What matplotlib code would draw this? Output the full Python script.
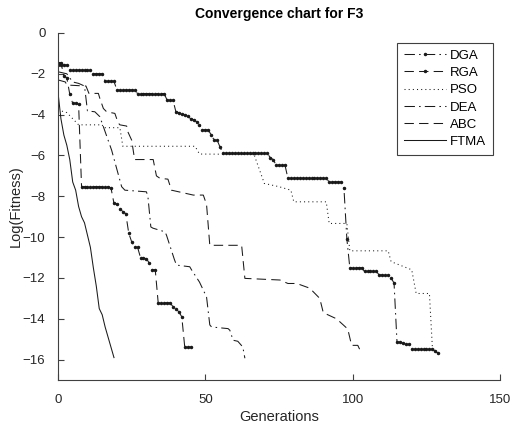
import numpy as np
import matplotlib
matplotlib.use("Agg")
import matplotlib.pyplot as plt

plt.rcParams["font.family"] = ["Liberation Sans", "DejaVu Sans"]

# ---------------------------------------------------------------------------
# Data (log fitness per generation)
# ---------------------------------------------------------------------------

# DGA / RGA: step values with how many generations each value holds
DGA_vals = [-1.57, -1.83, -2.0, -2.37, -2.8, -2.97, -3.28,
            -3.86, -3.9, -3.95, -4.0, -4.08, -4.2, -4.25, -4.35, -4.5,
            -4.75, -5.0, -5.25, -5.6, -5.9, -6.1, -6.2, -6.47, -7.12, -7.3,
            -7.6, -10.1, -11.5, -11.68, -11.86, -12.0, -12.25,
            -15.13, -15.15, -15.2, -15.22, -15.24, -15.5, -15.6, -15.67]
DGA_runs = [4, 8, 4, 4, 7, 10, 3,
            1, 1, 1, 1, 1, 1, 1, 1, 1,
            3, 1, 2, 1, 16, 1, 1, 4, 14, 5,
            1, 1, 5, 5, 4, 1, 1,
            1, 1, 1, 1, 1, 8, 1, 1]

RGA_vals = [-1.45, -2.1, -2.2, -3.0, -3.45, -3.5, -7.53, -7.6, -8.35, -8.38,
            -8.6, -8.75, -8.85, -9.8, -10.23, -10.47, -10.5, -11.0, -11.03,
            -11.05, -11.28, -11.6, -13.22, -13.4, -13.5, -13.66, -13.9, -15.38]
RGA_runs = [2, 1, 1, 1, 2, 1, 10, 1, 1, 1,
            1, 1, 1, 1, 1, 1, 1, 1, 1,
            1, 1, 2, 5, 1, 1, 1, 1, 3]

# PSO / DEA / ABC: corner points of the curves
PSO_x = [0, 3, 7, 15, 15.5, 21, 22, 46.5, 48, 66.5, 70, 75, 79, 80, 91, 92,
         98, 99, 112, 113, 120, 121.5, 126, 127, 128.5]
PSO_y = [-3.77, -3.9, -4.5, -4.5, -4.64, -4.64, -5.55, -5.55, -5.93, -5.95,
         -7.37, -7.53, -7.7, -8.27, -8.27, -9.33, -9.33, -10.67, -10.67,
         -11.2, -11.6, -12.76, -12.76, -15.4, -15.67]

DEA_x = [0, 3, 5, 7, 9, 9.5, 10, 12.5, 14.2, 18.2, 21.6, 22.7, 30, 30.5, 31.5,
         32.2, 36.3, 36.8, 39.5, 40.2, 44.7, 45.3, 48, 50.4, 51.5, 52.1, 57.7,
         58.3, 59.4, 61, 62.7, 63.4]
DEA_y = [-1.9, -2.0, -2.4, -2.47, -2.6, -3.2, -3.82, -3.86, -4.1, -5.74,
         -7.53, -7.7, -7.78, -8.0, -9.5, -9.56, -9.74, -9.9, -11.1, -11.37,
         -11.45, -11.6, -12.2, -12.93, -14.3, -14.4, -14.48, -14.56, -15.05,
         -15.1, -15.38, -15.93]

ABC_x = [0, 2.5, 3, 9.5, 10.5, 13.7, 14.2, 15.4, 16.5, 19.3, 20.4, 21, 23.3,
         23.7, 25, 26, 32.3, 33.4, 34.6, 37.3, 38.5, 45.9, 49.3, 50.4, 51.5,
         62.3, 63.4, 75.3, 78, 81, 85.4, 88.8, 90, 94.5, 98.3, 99.6, 101.7, 103]
ABC_y = [-2.3, -2.4, -2.55, -2.6, -2.96, -2.96, -3.2, -3.7, -3.86, -3.94,
         -4.4, -4.5, -4.56, -4.84, -5.25, -6.2, -6.2, -7.0, -7.12, -7.16,
         -7.7, -7.94, -7.94, -8.4, -10.4, -10.4, -12.02, -12.1, -12.27,
         -12.27, -12.5, -13.0, -13.7, -14.0, -14.5, -15.3, -15.3, -15.7]

FTMA_y = [-2.9, -4.2, -5.0, -5.5, -6.2, -7.3, -7.7, -8.5, -9.0, -9.3, -9.9,
          -10.5, -11.5, -12.4, -13.5, -13.8, -14.4, -14.9, -15.4, -15.9]

# ---------------------------------------------------------------------------
# Plot
# ---------------------------------------------------------------------------

dga = np.repeat(DGA_vals, DGA_runs)
rga = np.repeat(RGA_vals, RGA_runs)

fig = plt.figure(figsize=(5.13, 4.28), dpi=100)
ax = fig.add_axes([0.113, 0.112, 0.862, 0.811])

lw = 0.75
DASH = (9, 5)              # MATLAB-like long dashes
DASHDOT = (10, 4, 1.5, 4)
DOT = (1, 3)
lc = "#1a1a1a"

ax.plot(np.arange(len(dga)), dga, color=lc, lw=lw, dashes=DASHDOT,
        marker=".", markersize=3, label="DGA")
ax.plot(np.arange(len(rga)), rga, color=lc, lw=lw, dashes=DASH,
        marker=".", markersize=3, label="RGA")
ax.plot(PSO_x, PSO_y, color=lc, lw=lw, dashes=DOT, label="PSO")
ax.plot(DEA_x, DEA_y, color=lc, lw=lw, dashes=DASHDOT, label="DEA")
ax.plot(ABC_x, ABC_y, color=lc, lw=lw, dashes=DASH, label="ABC")
ax.plot(np.arange(len(FTMA_y)), FTMA_y, "-", color=lc, lw=lw, label="FTMA")

ax.set_xlim(0, 150)
ax.set_ylim(-17, 0)
ax.set_xticks([0, 50, 100, 150])
ax.set_yticks(range(-16, 1, 2))

gray = "#404040"
for s in ["top", "right"]:
    ax.spines[s].set_visible(False)
for s in ["left", "bottom"]:
    ax.spines[s].set_color(gray)
    ax.spines[s].set_linewidth(0.8)
ax.tick_params(direction="in", colors=gray, labelsize=9.5, length=4, width=0.8)
ax.tick_params(axis="x", pad=10)
ax.tick_params(axis="y", pad=9)
for lab in ax.get_xticklabels() + ax.get_yticklabels():
    lab.set_color("#262626")

ax.set_xlabel("Generations", fontsize=10.5, color="#262626", labelpad=3)
ax.set_ylabel("Log(Fitness)", fontsize=10.5, color="#262626", labelpad=0)
ax.set_title("Convergence chart for F3", fontsize=10, fontweight="bold",
             color="k", pad=11)

leg = ax.legend(loc="upper right", bbox_to_anchor=(0.998, 0.99), fontsize=9.5,
                handlelength=3.2, handletextpad=0.3, labelspacing=0.38,
                borderpad=0.5, fancybox=False, framealpha=1)
leg.get_frame().set_edgecolor(gray)
leg.get_frame().set_linewidth(0.8)

fig.savefig("out.png", dpi=100)
